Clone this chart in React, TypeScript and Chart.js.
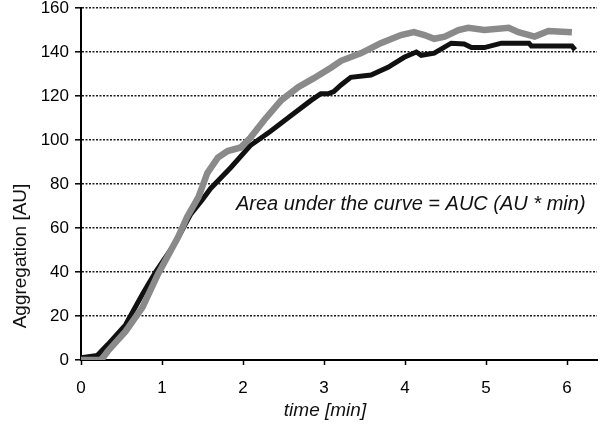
import React, { useEffect, useRef } from "react";
import { Chart, registerables } from "chart.js";

Chart.register(...registerables);

const yTicks = [0, 20, 40, 60, 80, 100, 120, 140, 160];
const xTicks = [0, 1, 2, 3, 4, 5, 6];

const grayTime = [0, 0.25, 0.33, 0.55, 0.76, 0.95, 1.2, 1.31, 1.45, 1.56, 1.69, 1.81, 1.97, 2.09, 2.26, 2.47, 2.68, 2.87, 3.09, 3.21, 3.46, 3.7, 3.95, 4.11, 4.24, 4.36, 4.49, 4.66, 4.78, 4.98, 5.28, 5.4, 5.6, 5.77, 6.06];
const grayAgg = [0, 0, 4, 13, 24, 39, 56, 65, 74, 85, 92, 95, 96.6, 101, 109, 118, 124, 128, 133, 136, 139.5, 144, 147.7, 149, 147.7, 146, 147, 150, 151, 150, 151, 149, 147, 149.5, 149];

const blackTime = [0, 0.2, 0.33, 0.55, 0.76, 0.92, 1.16, 1.35, 1.5, 1.6, 1.85, 2.09, 2.34, 2.59, 2.84, 2.96, 3.05, 3.12, 3.21, 3.33, 3.58, 3.79, 3.99, 4.14, 4.2, 4.36, 4.57, 4.73, 4.82, 4.98, 5.19, 5.53, 5.56, 6.06, 6.1];
const blackAgg = [1, 2, 7, 16, 30, 40, 53, 66, 73, 78, 87.5, 97.5, 104, 111, 118, 121, 121, 122, 125, 128.5, 129.5, 133, 137.6, 140, 138.5, 139.5, 144, 143.6, 142, 142, 144, 144, 142.7, 142.7, 141];

const yTitle = "Aggregation [AU]";
const xTitle = "time [min]";
const note = "Area under the curve = AUC (AU * min)";

const textPlugin = {
  id: "texts",
  afterDraw(chart: any) {
    const ctx = chart.ctx;
    ctx.save();
    ctx.fillStyle = "#111";
    ctx.font = "italic 20px 'Liberation Sans', Arial, sans-serif";
    ctx.textAlign = "left";
    ctx.textBaseline = "middle";
    ctx.fillText(note, 236, 204);
    ctx.font = "italic 19px 'Liberation Sans', Arial, sans-serif";
    ctx.textAlign = "center";
    ctx.fillText(xTitle, 325, 411);
    ctx.translate(21, 256);
    ctx.rotate(-Math.PI / 2);
    ctx.font = "19px 'Liberation Sans', Arial, sans-serif";
    ctx.fillText(yTitle, 0, 0);
    ctx.restore();
  },
};

export default function App() {
  const ref = useRef<HTMLCanvasElement>(null);
  useEffect(() => {
    document.body.style.margin = "0";
    const toPts = (t: number[], v: number[]) => t.map((x, i) => ({ x, y: v[i] }));
    const chart = new Chart(ref.current!, {
      type: "line",
      data: {
        datasets: [
          {
            label: "gray",
            data: toPts(grayTime, grayAgg),
            borderColor: "#8a8a8a",
            borderWidth: 6.5,
            pointRadius: 0,
            tension: 0,
            fill: false,
          },
          {
            label: "black",
            data: toPts(blackTime, blackAgg),
            borderColor: "#111111",
            borderWidth: 5,
            pointRadius: 0,
            tension: 0,
            fill: false,
          },
        ],
      },
      options: {
        animation: false,
        responsive: false,
        layout: { padding: { top: 0, right: 3, left: 0, bottom: 0 } },
        plugins: { legend: { display: false }, tooltip: { enabled: false } },
        scales: {
          x: {
            type: "linear",
            min: 0,
            max: 6.37,
            afterFit: (s: any) => { s.height = 66; },
            afterBuildTicks: (s: any) => { s.ticks = xTicks.map((v) => ({ value: v })); },
            ticks: {
              color: "#000",
              font: { family: "'Liberation Sans', Arial, sans-serif", size: 17 },
              padding: 13,
              maxRotation: 0,
            },
            grid: {
              drawOnChartArea: false,
              drawTicks: true,
              tickLength: 5,
              tickColor: "#000",
              tickWidth: 1.5,
            },
            border: { display: true, color: "#000", width: 2 },
          },
          y: {
            type: "linear",
            min: 0,
            max: 160,
            afterFit: (s: any) => { s.width = 81; s.paddingTop = 8; },
            afterBuildTicks: (s: any) => { s.ticks = yTicks.map((v) => ({ value: v })); },
            ticks: {
              color: "#000",
              font: { family: "'Liberation Sans', Arial, sans-serif", size: 17, lineHeight: 1 },
              padding: 6,
            },
            grid: {
              color: "#1a1a1a",
              lineWidth: 1.6,
              tickLength: 6,
              tickColor: "#000",
              tickWidth: 1.5,
              tickBorderDash: [],
            },
            border: { display: true, color: "#000", width: 2, dash: [2, 1.5] },
          },
        },
      },
      plugins: [textPlugin],
    });
    return () => chart.destroy();
  }, []);
  return <canvas ref={ref} width={600} height={426} />;
}
